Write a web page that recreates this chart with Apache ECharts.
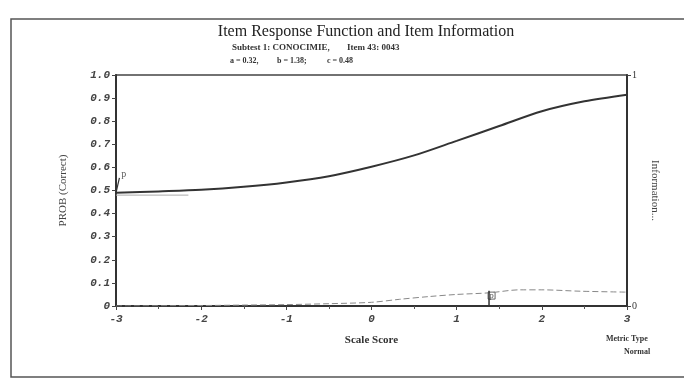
<!DOCTYPE html>
<html>
<head>
<meta charset="utf-8">
<script src="https://cdn.jsdelivr.net/npm/echarts@6/dist/echarts.min.js"></script>
<style>html,body{margin:0;padding:0;background:#fff;}#c{width:684px;height:380px;}</style>
</head>
<body>
<div id="c"></div>
<script>
// ---- data ----
const theta = [-3, -2.5, -2, -1.5, -1, -0.5, 0, 0.5, 1, 1.5, 2, 2.5, 3];
const probCorrect = [0.49, 0.496, 0.503, 0.516, 0.535, 0.562, 0.603, 0.652, 0.715, 0.779, 0.843, 0.886, 0.915];
const infoTheta = [-3, -2, -1.5, -1, -0.5, 0, 0.33, 0.68, 1, 1.38, 1.74, 2, 2.45, 3];
const information = [0, 0.002, 0.004, 0.006, 0.01, 0.016, 0.029, 0.041, 0.05, 0.057, 0.07, 0.07, 0.064, 0.06];
const guessTheta = [-3, -2.15];
const guessValue = [0.48, 0.48];
const pStemProbTheta = [-3, -2.96];
const pStemProbValue = [0.49, 0.555];
const pStemInfoTheta = [1.38, 1.38];
const pStemInfoValue = [0, 0.066];
const pLabelProb = [-2.91, 0.568];
const pLabelInfo = [1.41, 0.045];
const xTickLabels = ['-3', '-2', '-1', '0', '1', '2', '3'];
const yTickLabels = ['0', '0.1', '0.2', '0.3', '0.4', '0.5', '0.6', '0.7', '0.8', '0.9', '1.0'];
const infoTickLabels = ['0', '1'];

const zip = (a, b) => a.map((v, i) => [v, b[i]]);
const serif = 'Liberation Serif';
const mono = 'Liberation Mono';

const chart = echarts.init(document.getElementById('c'), null, {renderer: 'canvas'});
chart.setOption({
  animation: false,
  backgroundColor: '#ffffff',
  title: {
    text: 'Item Response Function and Item Information',
    left: 361, top: 19, textAlign: 'center',
    textStyle: {fontFamily: serif, fontSize: 16, fontWeight: 'normal', color: '#222'}
  },
  graphic: [
    {type: 'rect', shape: {x: 11, y: 19, width: 700, height: 358}, style: {fill: 'none', stroke: '#555', lineWidth: 1.5}, silent: true},
    {type: 'text', x: 232, y: 43, style: {text: 'Subtest 1: CONOCIMIE,', font: 'bold 9px "Liberation Serif"', fill: '#333'}},
    {type: 'text', x: 347, y: 43, style: {text: 'Item 43: 0043', font: 'bold 9px "Liberation Serif"', fill: '#333'}},
    {type: 'text', x: 230, y: 57, style: {text: 'a = 0.32,', font: 'bold 8px "Liberation Serif"', fill: '#333'}},
    {type: 'text', x: 277, y: 57, style: {text: 'b = 1.38;', font: 'bold 8px "Liberation Serif"', fill: '#333'}},
    {type: 'text', x: 327, y: 57, style: {text: 'c = 0.48', font: 'bold 8px "Liberation Serif"', fill: '#333'}},
    {type: 'text', x: 606, y: 335, style: {text: 'Metric Type', font: 'bold 8px "Liberation Serif"', fill: '#333'}},
    {type: 'text', x: 624, y: 348, style: {text: 'Normal', font: 'bold 8px "Liberation Serif"', fill: '#333'}}
  ],
  grid: {left: 116, right: 57, top: 75, bottom: 74, show: true, borderColor: '#444', borderWidth: 1.5},
  xAxis: {
    type: 'value', min: -3, max: 3, interval: 1,
    name: 'Scale Score', nameLocation: 'middle', nameGap: 29,
    nameTextStyle: {fontFamily: serif, fontSize: 11, color: '#333', fontWeight: 'bold'},
    axisLine: {onZero: false, lineStyle: {color: '#333', width: 2}},
    axisTick: {show: true, length: 4, lineStyle: {color: '#444'}},
    minorTick: {show: true, splitNumber: 2, length: 3, lineStyle: {color: '#555'}},
    splitLine: {show: false},
    axisLabel: {margin: 8, fontFamily: mono, fontSize: 11, fontStyle: 'italic', fontWeight: 'bold', color: '#444',
      formatter: v => xTickLabels[Math.round(v) + 3]}
  },
  yAxis: [
    {
      type: 'value', min: 0, max: 1, interval: 0.1,
      name: 'PROB (Correct)', nameLocation: 'middle', nameGap: 47,
      nameTextStyle: {fontFamily: serif, fontSize: 11, color: '#444'},
      axisLine: {show: true, onZero: false, lineStyle: {color: '#333', width: 2}},
      axisTick: {show: true, length: 4, lineStyle: {color: '#444'}},
      splitLine: {show: false},
      axisLabel: {margin: 6, fontFamily: mono, fontSize: 11, fontStyle: 'italic', fontWeight: 'bold', color: '#444',
        formatter: v => yTickLabels[Math.round(v * 10)]}
    },
    {
      type: 'value', min: 0, max: 1, interval: 1, position: 'right',
      name: 'Information...', nameLocation: 'middle', nameGap: 22, nameRotate: -90,
      nameTextStyle: {fontFamily: serif, fontSize: 11, color: '#444'},
      axisLine: {show: true, onZero: false, lineStyle: {color: '#333', width: 2}},
      axisTick: {show: true, length: 4, lineStyle: {color: '#444'}},
      splitLine: {show: false},
      axisLabel: {margin: 5, fontFamily: serif, fontSize: 10, color: '#333',
        formatter: v => infoTickLabels[Math.round(v)]}
    }
  ],
  series: [
    {name: 'IRF', type: 'line', data: zip(theta, probCorrect), smooth: 0.3, symbol: 'none',
      lineStyle: {color: '#333', width: 2}, z: 5},
    {name: 'Guessing', type: 'line', data: zip(guessTheta, guessValue), symbol: 'none',
      lineStyle: {color: '#aaa', width: 1}},
    {name: 'Information', type: 'line', yAxisIndex: 1, data: zip(infoTheta, information), smooth: 0.3, symbol: 'none',
      lineStyle: {color: '#888', width: 1, type: [6, 3]}},
    {name: 'pStemProb', type: 'line', data: zip(pStemProbTheta, pStemProbValue), symbol: 'none',
      lineStyle: {color: '#333', width: 1.2}},
    {name: 'pStemInfo', type: 'line', yAxisIndex: 1, data: zip(pStemInfoTheta, pStemInfoValue), symbol: 'none',
      lineStyle: {color: '#333', width: 1.5}},
    {name: 'pMarkProb', type: 'scatter', data: [pLabelProb], symbol: 'rect', symbolSize: 7,
      itemStyle: {color: 'transparent', borderColor: 'transparent'},
      label: {show: true, formatter: 'p', position: 'inside', fontFamily: serif, fontSize: 10, color: '#333'}},
    {name: 'pMarkInfo', type: 'scatter', yAxisIndex: 1, data: [pLabelInfo], symbol: 'rect', symbolSize: 7,
      itemStyle: {color: 'transparent', borderColor: '#444', borderWidth: 1},
      label: {show: true, formatter: 'p', position: 'inside', fontFamily: serif, fontSize: 9, color: '#333'}}
  ]
});
</script>
</body>
</html>
